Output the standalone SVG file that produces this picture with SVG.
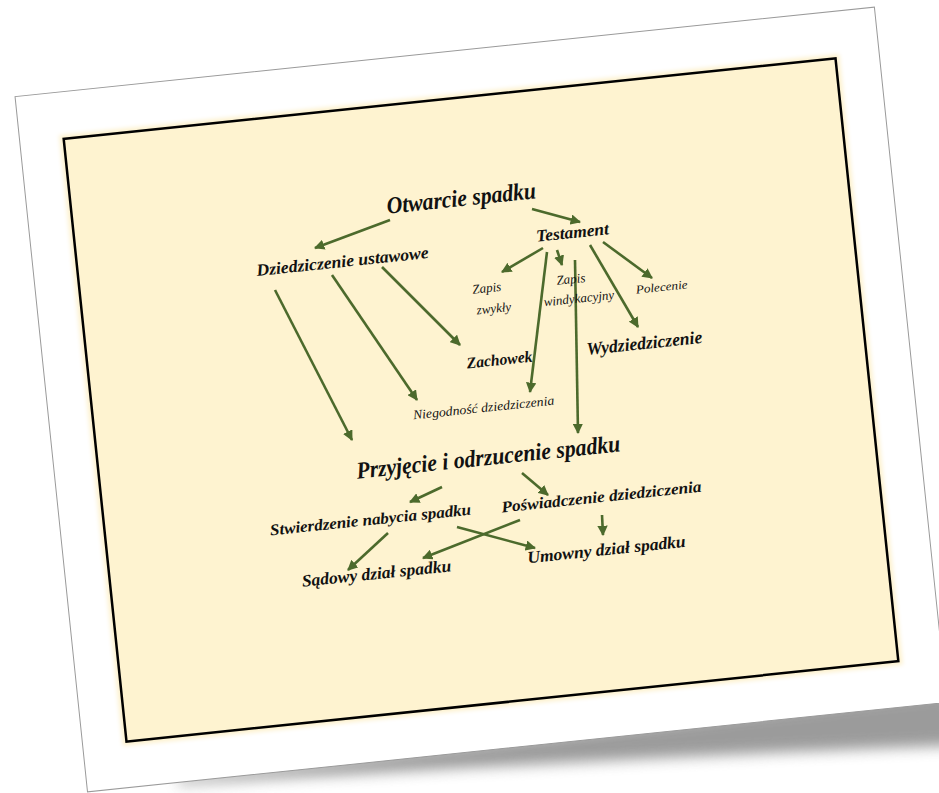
<svg xmlns="http://www.w3.org/2000/svg" width="939" height="793" viewBox="0 0 939 793">
<defs>
<filter id="blur" x="-20%" y="-20%" width="140%" height="140%"><feGaussianBlur stdDeviation="7"/></filter>
<filter id="soft" x="-5%" y="-5%" width="110%" height="110%"><feGaussianBlur stdDeviation="2"/></filter>
<marker id="ah" viewBox="0 0 10 10" refX="9" refY="5" markerWidth="4" markerHeight="4" orient="auto" markerUnits="strokeWidth"><path d="M0,0 L10,5 L0,10 Z" fill="#4c6a2c"/></marker>
<style>
.lbl{font-family:"Liberation Serif","DejaVu Serif",serif;font-style:italic;fill:#111;text-anchor:middle}
.b{font-weight:bold}
.c{stroke:#4c6a2c;stroke-width:2.6;fill:none;marker-end:url(#ah)}
</style>
</defs>
<rect width="939" height="793" fill="#ffffff"/>
<g id="slide" transform="rotate(-5.95 481 400)">
<path d="M140 745 L913 738 L945 795 Q620 772 140 751 Z" fill="#666" opacity="0.65" filter="url(#blur)"/>
<path d="M47 52 L47 750" stroke="#888" stroke-width="3" filter="url(#soft)"/>
<rect x="49" y="50" width="864" height="699" fill="#ffffff" stroke="#9a9a9a" stroke-width="1"/>
<rect x="89" y="93" width="784" height="614" fill="#fdf1cd" filter="url(#soft)"/>
<rect x="93" y="97" width="776" height="606" fill="#fef3d0" stroke="#000" stroke-width="2.5"/>
</g>
<g id="connectors">
<line class="c" x1="390" y1="220" x2="315" y2="248"/>
<line class="c" x1="532" y1="209" x2="580" y2="222"/>
<line class="c" x1="382" y1="267" x2="460" y2="345"/>
<line class="c" x1="332" y1="275" x2="417" y2="400"/>
<line class="c" x1="275" y1="290" x2="352" y2="440"/>
<line class="c" x1="543" y1="248" x2="502" y2="272"/>
<line class="c" x1="557" y1="250" x2="562" y2="265"/>
<line class="c" x1="547" y1="252" x2="530" y2="392"/>
<line class="c" x1="575" y1="260" x2="578" y2="433"/>
<line class="c" x1="590" y1="245" x2="638" y2="327"/>
<line class="c" x1="603" y1="242" x2="652" y2="278"/>
<line class="c" x1="442" y1="487" x2="410" y2="502"/>
<line class="c" x1="522" y1="473" x2="548" y2="495"/>
<line class="c" x1="602" y1="515" x2="603" y2="535"/>
<line class="c" x1="388" y1="533" x2="348" y2="570"/>
<line class="c" x1="457" y1="527" x2="535" y2="548"/>
<line class="c" x1="520" y1="520" x2="423" y2="558"/>
</g>
<g id="otwarcie"><text class="lbl b" x="462" y="206" font-size="24" textLength="150" lengthAdjust="spacingAndGlyphs" transform="rotate(-5.95 462 206)">Otwarcie spadku</text></g>
<g id="testament"><text class="lbl b" x="573" y="238" font-size="17" textLength="73" lengthAdjust="spacingAndGlyphs" transform="rotate(-5.95 573 238)">Testament</text></g>
<g id="ustawowe"><text class="lbl b" x="343" y="267" font-size="17" textLength="173" lengthAdjust="spacingAndGlyphs" transform="rotate(-5.95 343 267)">Dziedziczenie ustawowe</text></g>
<g id="zapis-zwykly"><text class="lbl" font-size="13" transform="rotate(-5.95 490 300)"><tspan x="488" y="292">Zapis</tspan><tspan x="493" y="313">zwykły</tspan></text></g>
<g id="zapis-windykacyjny"><text class="lbl" font-size="13" transform="rotate(-5.95 575 290)"><tspan x="572" y="283">Zapis</tspan><tspan x="578" y="303">windykacyjny</tspan></text></g>
<g id="polecenie"><text class="lbl" x="662" y="291" font-size="12" textLength="52" lengthAdjust="spacingAndGlyphs" transform="rotate(-5.95 662 291)">Polecenie</text></g>
<g id="wydziedziczenie"><text class="lbl b" x="645" y="349" font-size="18" textLength="116" lengthAdjust="spacingAndGlyphs" transform="rotate(-5.95 645 349)">Wydziedziczenie</text></g>
<g id="zachowek"><text class="lbl b" x="500" y="365" font-size="16" textLength="66" lengthAdjust="spacingAndGlyphs" transform="rotate(-5.95 500 365)">Zachowek</text></g>
<g id="niegodnosc"><text class="lbl" x="484" y="412" font-size="13" textLength="142" lengthAdjust="spacingAndGlyphs" transform="rotate(-5.95 484 412)">Niegodność dziedziczenia</text></g>
<g id="przyjecie"><text class="lbl b" x="489" y="465" font-size="24" textLength="265" lengthAdjust="spacingAndGlyphs" transform="rotate(-5.95 489 465)">Przyjęcie i odrzucenie spadku</text></g>
<g id="poswiadczenie"><text class="lbl b" x="602" y="502" font-size="16" textLength="201" lengthAdjust="spacingAndGlyphs" transform="rotate(-5.95 602 502)">Poświadczenie dziedziczenia</text></g>
<g id="stwierdzenie"><text class="lbl b" x="371" y="525" font-size="16" textLength="202" lengthAdjust="spacingAndGlyphs" transform="rotate(-5.95 371 525)">Stwierdzenie nabycia spadku</text></g>
<g id="umowny"><text class="lbl b" x="607" y="555" font-size="17" textLength="159" lengthAdjust="spacingAndGlyphs" transform="rotate(-5.95 607 555)">Umowny dział spadku</text></g>
<g id="sadowy"><text class="lbl b" x="377" y="579" font-size="17" textLength="150" lengthAdjust="spacingAndGlyphs" transform="rotate(-5.95 377 579)">Sądowy dział spadku</text></g>
</svg>
